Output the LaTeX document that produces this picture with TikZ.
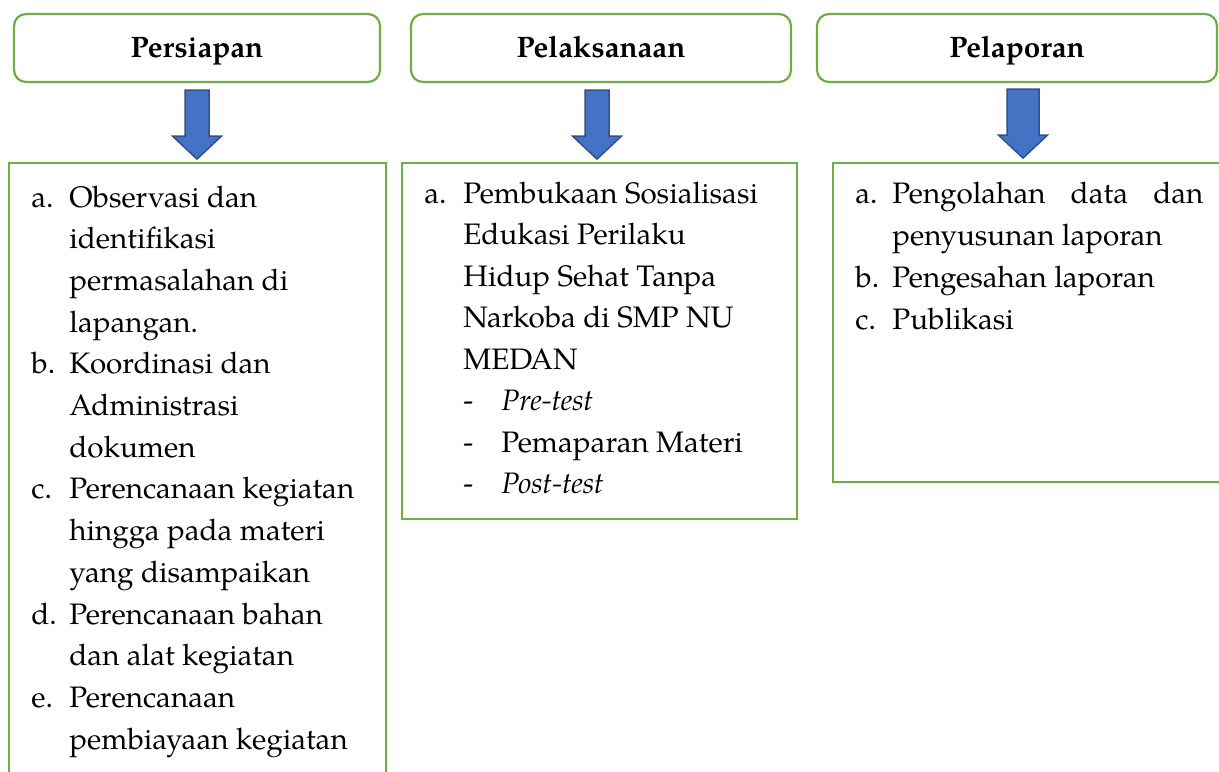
\documentclass[tikz,border=0pt]{standalone}
\usepackage{fontspec}
\setmainfont{texgyrepagella}[Extension=.otf,UprightFont=*-regular,BoldFont=*-bold,ItalicFont=*-italic,BoldItalicFont=*-bolditalic]
\definecolor{boxgreen}{HTML}{70AD47}
\definecolor{arrowblue}{HTML}{4472C4}
\definecolor{arrowedge}{HTML}{2F528F}
\begin{document}
\begin{tikzpicture}[x=.5pt,y=-.5pt,font=\fontsize{14.8}{20}\selectfont,
  phasebox/.style={draw=boxgreen,line width=1.1pt,rounded corners=6pt,minimum height=34pt,text height=10.5pt,text depth=1.5pt,font=\fontsize{14.8}{20}\selectfont\bfseries},
  listframe/.style={draw=boxgreen,line width=1.1pt},
  itemline/.style={anchor=base west,inner sep=0pt},
  blockarrow/.style={fill=arrowblue,draw=arrowedge,line width=.75pt,line join=miter}]
\useasboundingbox (0,0) rectangle (1219,771);
\clip (0,0) rectangle (1219,771);
\node[phasebox,minimum width=183pt] (persiapan) at (197,48) {Persiapan};
\node[phasebox,minimum width=190pt] (pelaksanaan) at (601,48) {Pelaksanaan};
\node[phasebox,minimum width=200pt] (pelaporan) at (1017,48) {Pelaporan};
\draw[listframe] (9,163) rectangle (386,790);
\draw[listframe] (402,163) rectangle (797,519);
\draw[listframe] (833,163) rectangle (1230,482);
\coordinate (a1) at ([yshift=-3.5pt]persiapan.south);
\coordinate (a2) at ([xshift=-2pt,yshift=-3.5pt]pelaksanaan.south);
\coordinate (a3) at ([xshift=3pt,yshift=-3pt]pelaporan.south);
\foreach \n/\w in {1/12,2/12,3/16}
  \draw[blockarrow] (a\n) ++(-\w,0) -- ++(0,46) -- ++({\w-24.5},0) -- ++(24.5,23) -- ++(24.5,-23) -- ++({\w-24.5},0) -- ++(0,-46) -- cycle;
\foreach \lab/\txt [count=\k from 0] in {a./Observasi dan, /identifikasi, /permasalahan di, /lapangan., b./Koordinasi dan, /Administrasi, /dokumen, c./Perencanaan kegiatan, /hingga pada materi, /yang disampaikan, d./Perencanaan bahan, /dan alat kegiatan, e./Perencanaan, /pembiayaan kegiatan}
  \node[itemline] (kiri\k) at (31,{207+41.7*\k}) {\makebox[19pt][l]{\lab}\txt};
\foreach \lab/\txt [count=\k from 0] in {a./Pembukaan Sosialisasi, /Edukasi Perilaku, /Hidup Sehat Tanpa, /Narkoba di SMP NU, /MEDAN}
  \node[itemline] (tengah\k) at (424,{203+41.5*\k}) {\makebox[19.5pt][l]{\lab}\txt};
\foreach \txt [count=\k from 5] in {\textit{Pre-test}, Pemaparan Materi, \textit{Post-test}}
  \node[itemline] (tengah\k) at (463,{203+41.5*\k}) {\makebox[19pt][l]{-}\txt};
\foreach \lab/\txt [count=\k from 0] in {a./\makebox[155.5pt][s]{Pengolahan data dan}, /penyusunan laporan, b./Pengesahan laporan, c./Publikasi}
  \node[itemline] (kanan\k) at (855,{203+42*\k}) {\makebox[18.5pt][l]{\lab}\txt};
\end{tikzpicture}
\end{document}
